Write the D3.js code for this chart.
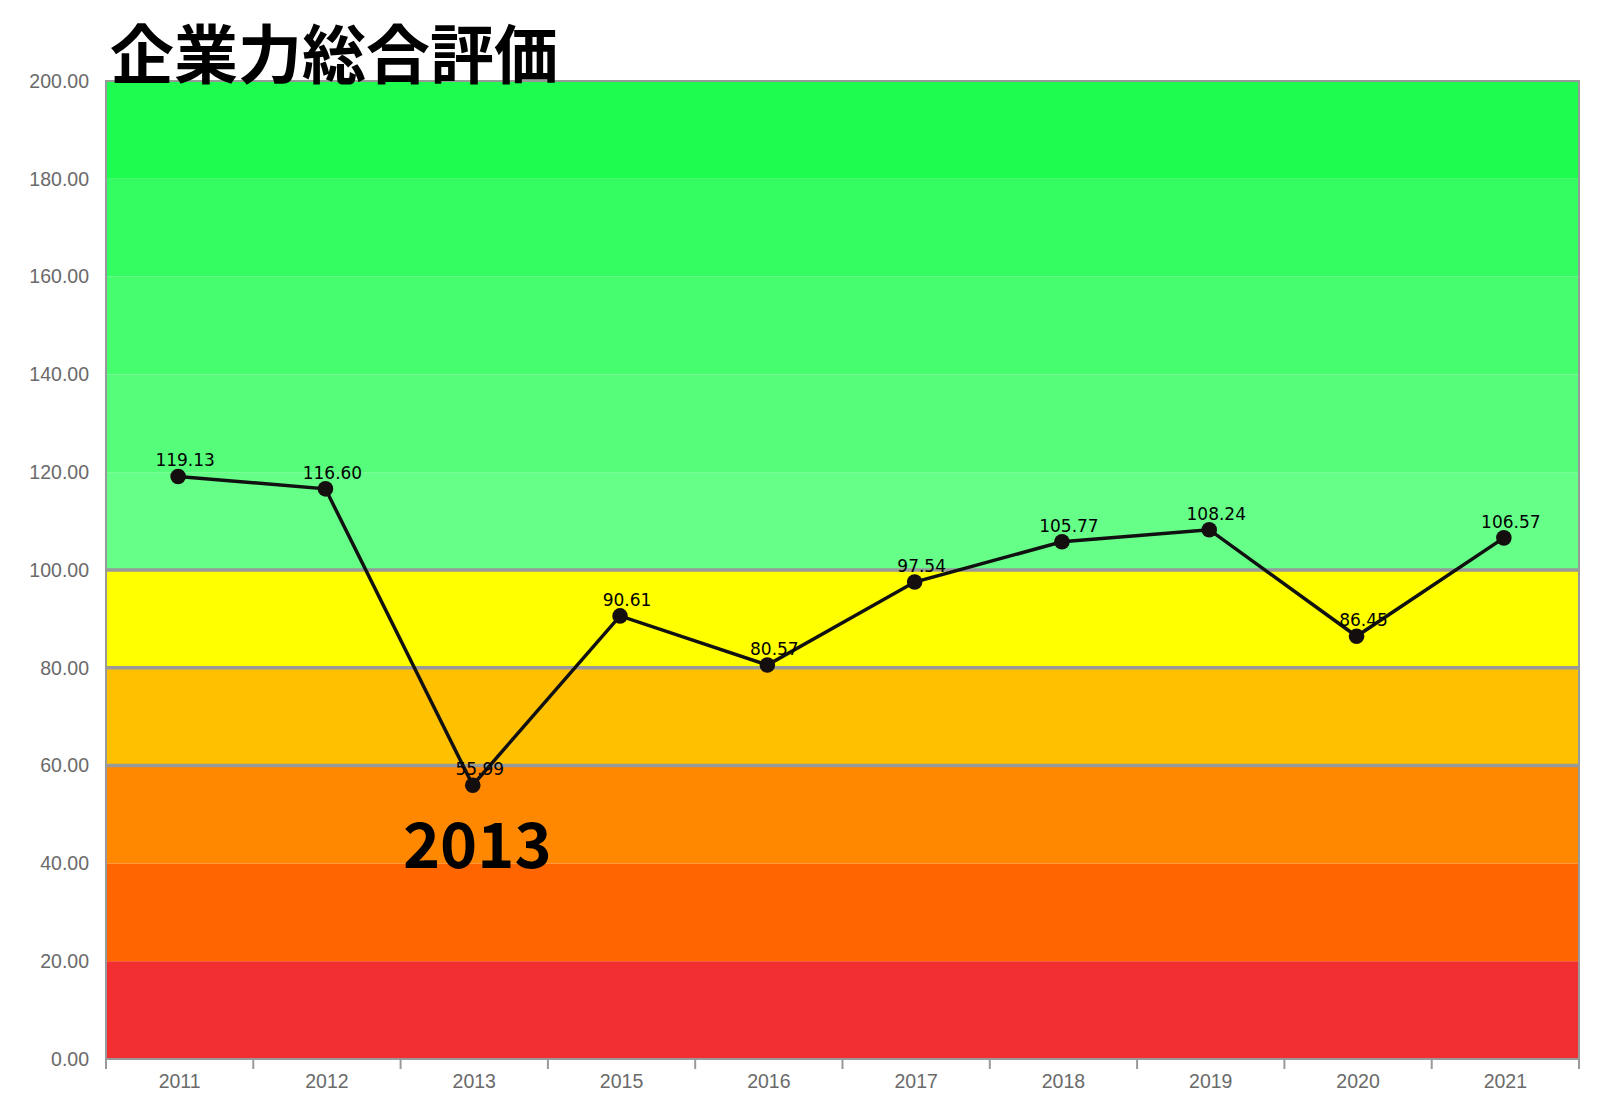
<!DOCTYPE html>
<html>
<head>
<meta charset="utf-8">
<script src="https://cdn.jsdelivr.net/npm/d3@7"></script>
<style>
  html, body { margin: 0; padding: 0; background: #fff; }
  svg { display: block; }
</style>
</head>
<body>
<svg id="chart" width="1600" height="1120"></svg>
<script>
const categories = ["2011", "2012", "2013", "2015", "2016", "2017", "2018", "2019", "2020", "2021"];
const values = [119.13, 116.60, 55.99, 90.61, 80.57, 97.54, 105.77, 108.24, 86.45, 106.57];
const yTicks = [0, 20, 40, 60, 80, 100, 120, 140, 160, 180, 200];
const bandFrom = [0, 20, 40, 60, 80, 100, 120, 140, 160, 180];
const bandTo = [20, 40, 60, 80, 100, 120, 140, 160, 180, 200];
const bandColors = ["#f22f30", "#ff6600", "#ff8800", "#ffc000", "#ffff00", "#66ff88", "#56fd7a", "#45fd6d", "#33fd60", "#1ffc50"];
const gridValues = [60, 80, 100];
const titleText = "企業力総合評価";
const annotationText = "2013";
const annotationCategory = "2013";

const svg = d3.select("#chart");
const L = 106, R = 1579, T = 81, B = 1059;

const x = d3.scaleBand().domain(categories).range([L, R]);
const y = d3.scaleLinear().domain([0, 200]).range([B, T]);

// bands
svg.append("g").selectAll("rect")
  .data(bandFrom.map((f, i) => ({from: f, to: bandTo[i], color: bandColors[i]})))
  .join("rect")
  .attr("x", L).attr("width", R - L)
  .attr("y", d => y(d.to)).attr("height", d => y(d.from) - y(d.to))
  .attr("fill", d => d.color);

// grid lines
svg.append("g").selectAll("line")
  .data(gridValues).join("line")
  .attr("x1", L).attr("x2", R)
  .attr("y1", d => y(d)).attr("y2", d => y(d))
  .attr("stroke", "#999").attr("stroke-width", 3.5);

// border
svg.append("rect")
  .attr("x", L).attr("y", T).attr("width", R - L).attr("height", B - T)
  .attr("fill", "none").attr("stroke", "#999").attr("stroke-width", 2);

// y axis
const yAxis = svg.append("g").attr("transform", `translate(${L},0)`)
  .call(d3.axisLeft(y).tickValues(yTicks).tickFormat(d3.format(".2f")).tickSize(0).tickPadding(17));
yAxis.select(".domain").remove();
yAxis.selectAll("text")
  .attr("fill", "#6a6a6a")
  .style("font-family", "'Liberation Sans', Arial, sans-serif")
  .style("font-size", "19.5px");

// x axis
const xAxis = svg.append("g").attr("transform", `translate(0,${B})`)
  .call(d3.axisBottom(x).tickSize(0).tickPadding(15));
xAxis.select(".domain").remove();
xAxis.selectAll("text")
  .attr("fill", "#6a6a6a")
  .style("font-family", "'Liberation Sans', Arial, sans-serif")
  .style("font-size", "19.5px");

const tickPos = categories.map(c => x(c)).concat([x.range()[1]]);
svg.append("g").selectAll("line")
  .data(tickPos).join("line")
  .attr("x1", d => d).attr("x2", d => d)
  .attr("y1", B).attr("y2", B + 10)
  .attr("stroke", "#999").attr("stroke-width", 2);

svg.append("line")
  .attr("x1", L).attr("x2", R).attr("y1", B).attr("y2", B)
  .attr("stroke", "#999").attr("stroke-width", 2);

// line
const cx = c => x(c) + x.bandwidth() / 2 - 1.5;
const data = categories.map((c, i) => ({c, v: values[i]}));
svg.append("path")
  .datum(data)
  .attr("d", d3.line().x(d => cx(d.c)).y(d => y(d.v)))
  .attr("fill", "none").attr("stroke", "#111").attr("stroke-width", 3.5);

svg.append("g").selectAll("circle")
  .data(data).join("circle")
  .attr("cx", d => cx(d.c)).attr("cy", d => y(d.v)).attr("r", 7.8)
  .attr("fill", "#140e0e");

svg.append("g").selectAll("text")
  .data(data).join("text")
  .attr("x", d => cx(d.c) + 7).attr("y", d => y(d.v) - 10)
  .attr("text-anchor", "middle")
  .style("font-family", "'DejaVu Sans', sans-serif")
  .style("font-size", "17px")
  .attr("fill", "#000")
  .text(d => d.v.toFixed(2));

// annotation
svg.append("text")
  .attr("x", x(annotationCategory) + x.bandwidth() / 2 + 3)
  .attr("y", 868)
  .attr("text-anchor", "middle")
  .style("font-family", "'Noto Sans CJK JP', 'Noto Sans', sans-serif")
  .style("font-weight", "bold")
  .style("font-size", "63px")
  .attr("fill", "#000")
  .text(annotationText);

// title
svg.append("text")
  .attr("x", 110).attr("y", 78)
  .style("font-family", "'Noto Sans CJK JP', sans-serif")
  .style("font-weight", "bold")
  .style("font-size", "64px")
  .attr("fill", "#000")
  .text(titleText);
</script>
</body>
</html>
